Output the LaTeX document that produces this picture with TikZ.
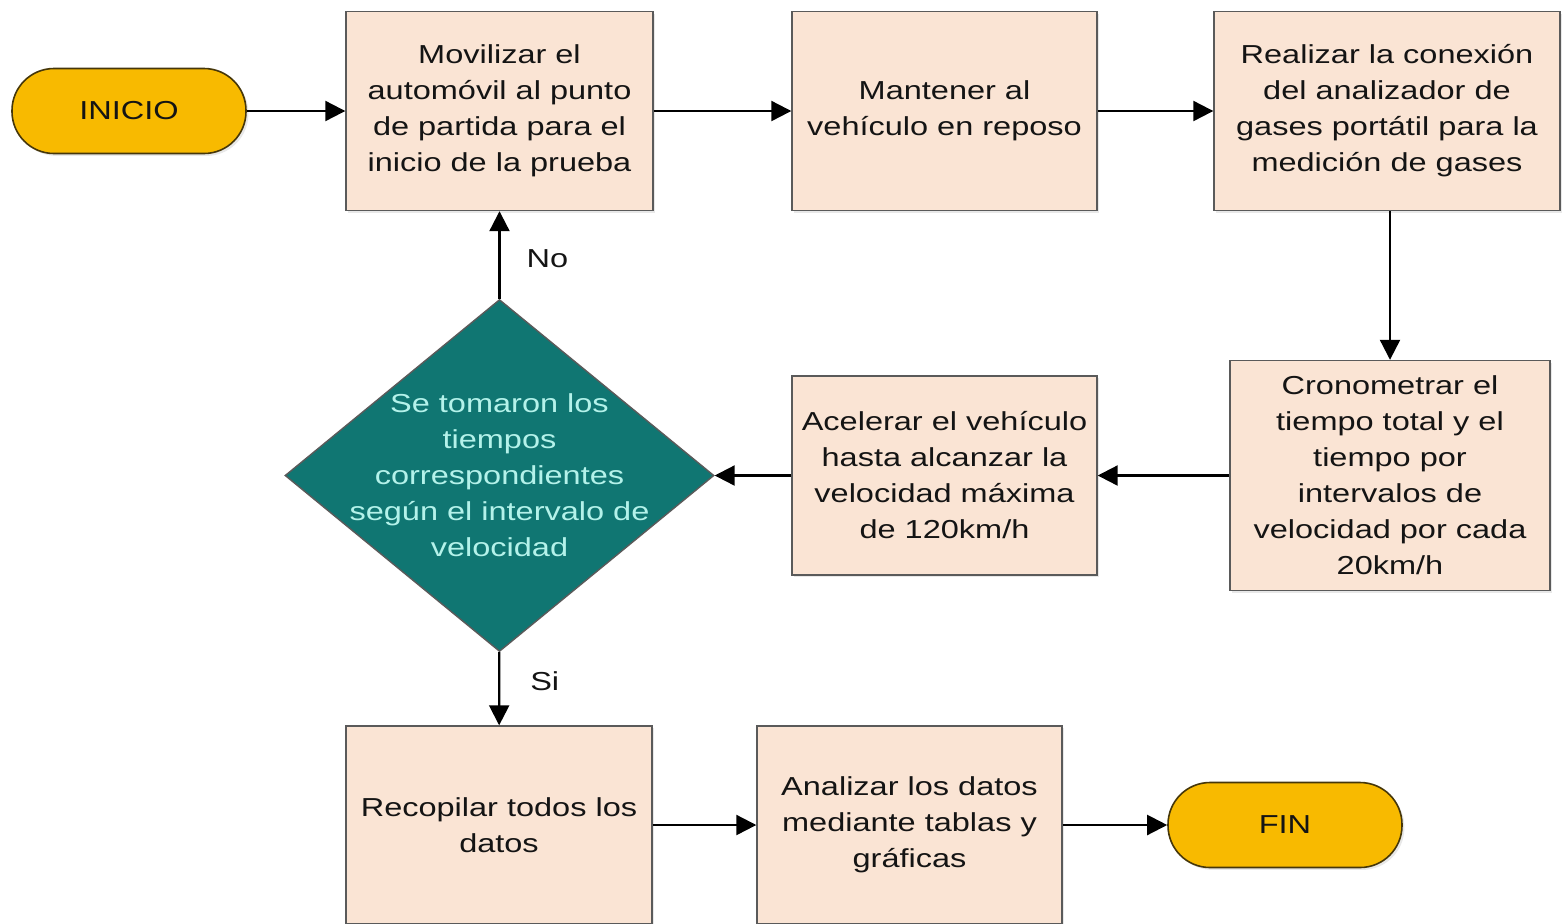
\documentclass[tikz,border=0pt]{standalone}
\usepackage{fontspec}
\setmainfont{Liberation Sans}[FakeStretch=1.25]
\usetikzlibrary{arrows.meta,shapes.geometric,shadows}
\definecolor{boxfill}{RGB}{250,228,212}
\definecolor{boxdraw}{RGB}{90,90,90}
\definecolor{decfill}{RGB}{16,118,114}
\definecolor{dectext}{RGB}{180,242,234}
\definecolor{termfill}{RGB}{248,186,0}
\definecolor{termdraw}{RGB}{70,55,10}
\definecolor{txt}{RGB}{20,20,20}
\begin{document}
\begin{tikzpicture}[x=0.5pt,y=-0.5pt,
  every node/.style={font=\fontsize{13pt}{18pt}\selectfont, text=txt},
  procbox/.style={draw=boxdraw, line width=0.7pt, fill=boxfill, inner sep=0pt, align=center,
    drop shadow={opacity=0.18, shadow xshift=1.2pt, shadow yshift=-1.2pt}},
  term/.style={draw=termdraw, line width=0.8pt, fill=termfill, rounded corners=21pt,
    minimum width=117pt, minimum height=42.5pt, inner sep=0pt,
    drop shadow={opacity=0.18, shadow xshift=1.2pt, shadow yshift=-1.2pt}},
  decision/.style={diamond, draw=boxdraw, line width=0.7pt, fill=decfill, inner sep=0pt,
    minimum width=214.5pt, minimum height=176pt},
  arr/.style={draw=black, line width=1.1pt, -{Triangle[length=10pt,width=10pt]}},
  lbl/.style={inner sep=0pt}
]
\useasboundingbox (0,0) rectangle (1562,923);

\node[term] (inicio) at (129,111) {INICIO};
\node[procbox, minimum width=153.5pt, minimum height=99.5pt] (b1) at (499.5,111)
  {Movilizar el\\automóvil al punto\\de partida para el\\inicio de la prueba};
\node[procbox, minimum width=152.5pt, minimum height=99.5pt] (b2) at (944.5,111)
  {Mantener al\\vehículo en reposo};
\node[procbox, minimum width=173pt, minimum height=99.5pt] (b3) at (1387,111)
  {Realizar la conexión\\del analizador de\\gases portátil para la\\medición de gases};
\node[procbox, minimum width=160pt, minimum height=115pt] (b4) at (1390,475.5)
  {Cronometrar el\\tiempo total y el\\tiempo por\\intervalos de\\velocidad por cada\\20km/h};
\node[procbox, minimum width=152.5pt, minimum height=99.5pt] (b5) at (944.5,475.5)
  {Acelerar el vehículo\\hasta alcanzar la\\velocidad máxima\\de 120km/h};
\node[decision] (dec) at (499.5,475.5) {};
\node[align=center, text=dectext, inner sep=0pt] (dectxt) at (dec.center)
  {Se tomaron los\\tiempos\\correspondientes\\según el intervalo de\\velocidad};
\node[procbox, minimum width=153pt, minimum height=99pt] (b6) at (499,825)
  {Recopilar todos los\\datos};
\node[procbox, minimum width=152.5pt, minimum height=99pt] (b7) at (909.5,825)
  {Analizar los datos\\mediante tablas y\\gráficas};
\node[term] (fin) at (1285,825) {FIN};

\draw[arr] (inicio) -- (b1);
\draw[arr] (b1) -- (b2);
\draw[arr] (b2) -- (b3);
\draw[arr] (b4.north |- b3.south) -- (b4.north);
\draw[arr] (b4) -- (b5);
\draw[arr] (b5) -- (dec);
\draw[arr] (dec) -- (b1) node[lbl, midway, right=13pt, yshift=-2pt] (no) {No};
\draw[arr] (dec) -- (b6) node[lbl, midway, right=15pt, yshift=3.5pt] (si) {Si};
\draw[arr] (b6) -- (b7);
\draw[arr] (b7) -- (fin);
\end{tikzpicture}
\end{document}
